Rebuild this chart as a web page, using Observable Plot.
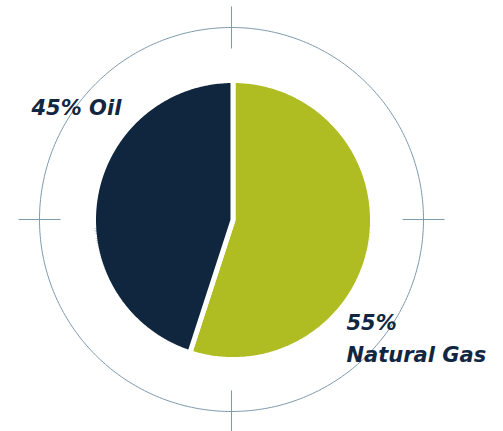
<!DOCTYPE html>
<html><head><meta charset="utf-8">
<script src="https://cdn.jsdelivr.net/npm/d3@7"></script>
<script src="https://cdn.jsdelivr.net/npm/@observablehq/plot@0.6"></script>
<style>html,body{margin:0;padding:0;background:#fff}#chart svg{display:block}</style>
</head><body><div id="chart"></div>
<script>
// ---- data ----
const categories = ["Natural Gas", "Oil"];
const shares = [55, 45];
const labelTexts = ["55%\nNatural Gas", "45% Oil"];
const sliceColors = ["#afbc22", "#10263f"];

// ---- layout ----
const W = 503, H = 431;
const pieCx = 232.5, pieCy = 219.5, pieR = 139.5;
const ringCx = 231, ringCy = 219, ringR = 192, tickHalf = 21;
const labelPos = [{x: 346, y: 361}, {x: 31, y: 114}];

const data = categories.map((c, i) => ({cat: c, value: shares[i]}));
const arcs = d3.pie().sort(null).value(d => d.value)(data);

const slicePts = arcs.flatMap(s => {
  const pts = [{cat: s.data.cat, x: pieCx, y: pieCy}];
  const n = Math.ceil((s.endAngle - s.startAngle) * 80);
  for (let i = 0; i <= n; i++) {
    const a = s.startAngle + (s.endAngle - s.startAngle) * i / n;
    pts.push({cat: s.data.cat, x: pieCx + pieR * Math.sin(a), y: pieCy - pieR * Math.cos(a)});
  }
  pts.push({cat: s.data.cat, x: pieCx, y: pieCy});
  return pts;
});

const ringPts = d3.range(0, 361).map(d => {
  const a = d * Math.PI / 180;
  return {x: ringCx + ringR * Math.sin(a), y: ringCy - ringR * Math.cos(a)};
});

const ticks = [0, 90, 180, 270].map(d => {
  const a = d * Math.PI / 180, s = Math.sin(a), c = Math.cos(a);
  const px = ringCx + ringR * s, py = ringCy - ringR * c;
  // radial direction
  return {x1: px - tickHalf * s, y1: py + tickHalf * c, x2: px + tickHalf * s, y2: py - tickHalf * c};
});

const labels = labelTexts.map((t, i) => ({text: t, ...labelPos[i]}));

const chart = Plot.plot({
  width: W, height: H, margin: 0,
  x: {domain: [0, W], range: [0, W], axis: null},
  y: {domain: [0, H], range: [0, H], axis: null},
  color: {domain: categories, range: sliceColors},
  marks: [
    Plot.line(ringPts, {x: "x", y: "y", stroke: "#7e9aad", strokeWidth: 1}),
    Plot.link(ticks, {x1: "x1", y1: "y1", x2: "x2", y2: "y2", stroke: "#7e9aad", strokeWidth: 1}),
    Plot.line(slicePts, {x: "x", y: "y", z: "cat", fill: "cat", stroke: "white", strokeWidth: 5, strokeLinejoin: "miter"}),
    Plot.text(labels, {x: "x", y: "y", text: "text", textAnchor: "start", lineAnchor: "bottom",
      lineHeight: 1.52, fontSize: 21, fontWeight: "bold", fontStyle: "italic",
      fontFamily: "DejaVu Sans", fill: "#12273f"})
  ]
});
document.getElementById("chart").appendChild(chart);
</script>
</body></html>
